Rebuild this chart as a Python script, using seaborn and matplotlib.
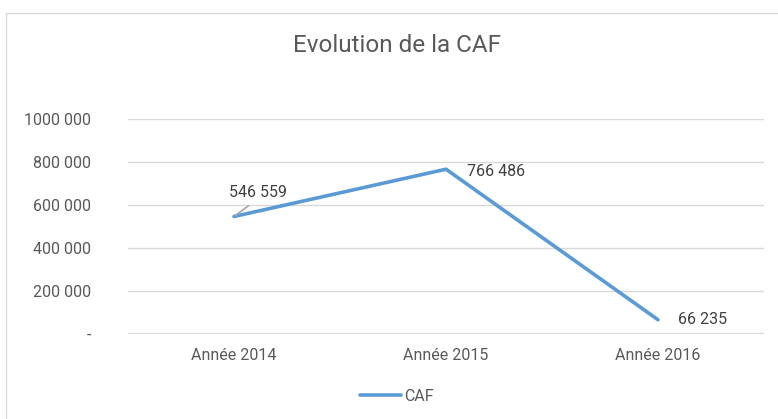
import matplotlib
matplotlib.use("Agg")
import matplotlib.pyplot as plt
import matplotlib.patches as mpatches
import pandas as pd
import seaborn as sns

years = ["Année 2014", "Année 2015", "Année 2016"]
caf = [546559, 766486, 66235]
y_ticks = [0, 200000, 400000, 600000, 800000, 1000000]
y_tick_labels = ["-", "200 000", "400 000", "600 000", "800 000", "1000 000"]
point_labels = ["546 559", "766 486", "66 235"]

TEXT = "#595959"
GRID = "#D9D9D9"
BLUE = "#5B9BD5"

sns.set_theme(style="white")
plt.rcParams["font.family"] = ["Roboto", "DejaVu Sans"]

df = pd.DataFrame({"annee": years, "caf": caf})

fig = plt.figure(figsize=(7.78, 4.19), dpi=100)
ax = fig.add_axes([128 / 778, 1 - 334 / 419, 636 / 778, 215 / 419])

sns.lineplot(data=df, x="annee", y="caf", ax=ax, color=BLUE, linewidth=2.6,
             label="CAF", legend=False, solid_capstyle="round")

ax.set_xlim(-0.5, 2.5)
ax.set_ylim(0, 1000000)
ax.set_yticks(y_ticks)
ax.set_yticklabels(y_tick_labels)
ax.set_xlabel("")
ax.set_ylabel("")
for s in ax.spines.values():
    s.set_visible(False)
ax.grid(axis="y", color=GRID, linewidth=1)
ax.grid(axis="x", visible=False)
ax.axhline(0, color=GRID, linewidth=1.6, zorder=1)
ax.tick_params(axis="y", length=0, pad=37 * 0.72, labelsize=11.5, colors=TEXT)
ax.tick_params(axis="x", length=0, pad=14 * 0.72, labelsize=11.5, colors=TEXT)

# data labels (offsets in pixels from the point to the label's left edge)
offsets = [(-5, 24), (21, -2), (20, 0)]
for i, (lab, (dx, dy)) in enumerate(zip(point_labels, offsets)):
    arrow = None
    if i == 0:
        arrow = dict(arrowstyle="-", color="#A6A6A6", lw=1.2, shrinkA=3, shrinkB=1,
                     relpos=(0.47, 0.0))
    ax.annotate(lab, xy=(i, caf[i]), xytext=(dx, dy),
                textcoords="offset pixels", ha="left", va="center",
                fontsize=11.5, color="#404040", arrowprops=arrow, zorder=5)

fig.text(397 / 778, 1 - 45 / 419, "Evolution de la CAF", ha="center", va="center",
         fontsize=17.5, color=TEXT)

handle = plt.Line2D([], [], color=BLUE, linewidth=2.6, solid_capstyle="round")
fig.legend([handle], ["CAF"], loc="center", bbox_to_anchor=(397 / 778, 1 - 396 / 419),
           frameon=False, fontsize=11.5, labelcolor=TEXT, handlelength=2.6,
           handletextpad=0.2)

fig.patches.append(mpatches.Rectangle((6 / 778, -0.05), 1.0, 1 - 13 / 419 + 0.05,
                                      transform=fig.transFigure, fill=False,
                                      edgecolor=GRID, linewidth=1))

fig.savefig("out.png", dpi=100)
